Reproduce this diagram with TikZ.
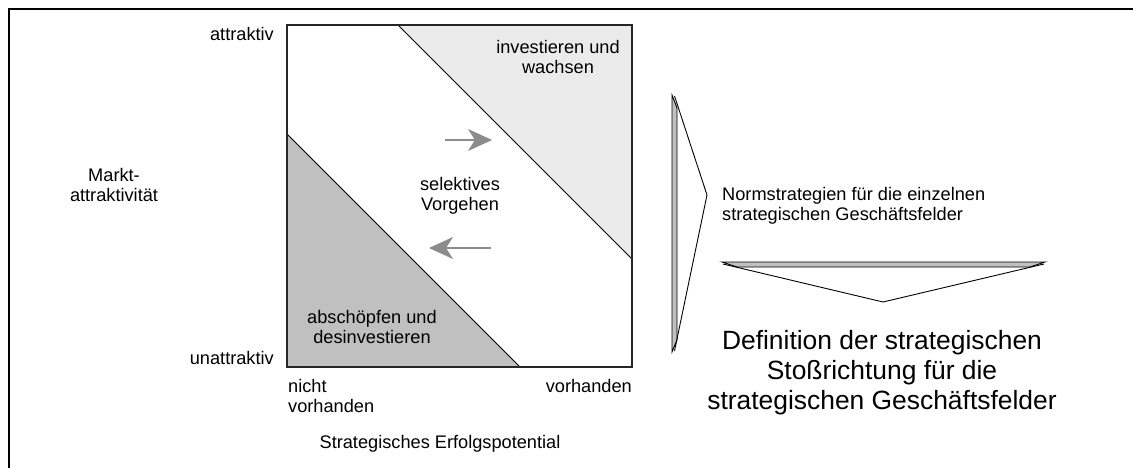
\documentclass[tikz,border=0pt]{standalone}
\usepackage{fontspec}
\setmainfont{Liberation Sans}
\usetikzlibrary{arrows.meta}
\definecolor{lightfill}{HTML}{EBEBEB}
\definecolor{darkfill}{HTML}{C0C0C0}
\definecolor{arrowgray}{HTML}{8C8C8C}
\definecolor{stripfill}{HTML}{C0C0C0}
\begin{document}
\begin{tikzpicture}[x=1pt,y=-1pt,
  lbl/.style={font=\fontsize{18.2}{20.5}\selectfont, inner sep=0pt, align=center},
  biglbl/.style={font=\fontsize{26.4}{30}\selectfont, inner sep=0pt, align=center},
  movearrow/.style={draw=arrowgray, line width=1.5pt,
    -{Stealth[length=24pt,width=22pt,inset=7pt,fill=arrowgray]}},
  region/.style={draw=black, line width=1pt},
  strip/.style={draw=black, fill=stripfill, line width=0.9pt, line join=miter},
  chevron/.style={draw=black, line width=0.9pt}]
\useasboundingbox (0,0) rectangle (1133,468);
\fill[white] (0,0) rectangle (1133,468);
% outer frame (only top and left edge lie inside the page)
\draw[line width=2.7pt] (9,470) -- (9,9) -- (1135,9);

% portfolio square with the two strategy zones
\coordinate (sqNW) at (287,25);
\coordinate (sqSE) at (632,367);
\filldraw[region, fill=lightfill] (398,25) -- (632,25) -- (632,259) -- cycle;
\filldraw[region, fill=darkfill] (287,134) -- (520,367) -- (287,367) -- cycle;
\draw[line width=1.2pt, draw=black!85] (sqNW) rectangle (sqSE);

% axis labels
\node[lbl, anchor=base east] (yhi) at (274,41) {attraktiv};
\node[lbl, anchor=base east] (ylo) at (274,364) {unattraktiv};
\node[lbl, anchor=north] (yaxis) at (114,168) {Markt-\\attraktivität};
\node[lbl, anchor=north west, align=left] (xlo) at (288,379) {nicht\\vorhanden};
\node[lbl, anchor=base east] (xhi) at (632,392) {vorhanden};
\node[lbl, anchor=base] (xaxis) at (440,448) {Strategisches Erfolgspotential};

% zone labels
\node[lbl, anchor=north] (invest) at (558,40) {investieren und\\wachsen};
\node[lbl, anchor=north] (select) at (460,177) {selektives\\Vorgehen};
\node[lbl, anchor=north] (harvest) at (372,310) {abschöpfen und\\desinvestieren};

% movement arrows inside the selective zone
\coordinate (upA) at (445,140);
\coordinate (upB) at (492,140);
\coordinate (dnA) at (491,248);
\coordinate (dnB) at (429,248);
\draw[movearrow] (upA) -- (upB);
\draw[movearrow] (dnA) -- (dnB);

% right-pointing chevron
\filldraw[strip] (672,95) -- (677,108) -- (677,340) -- (672,352) -- cycle;
\coordinate (rTop) at (674.5,96);
\coordinate (rTip) at (707,195);
\coordinate (rBot) at (674.5,351);
\draw[chevron] (rTop) -- (rTip) -- (rBot);

% result text
\node[lbl, anchor=north west, align=left] (norm) at (722,187)
  {Normstrategien für die einzelnen\\strategischen Geschäftsfelder};

% down-pointing chevron
\filldraw[strip] (722,262) -- (1045,262) -- (1030,267) -- (737,267) -- cycle;
\coordinate (dLeft) at (723,264);
\coordinate (dTip) at (883,302);
\coordinate (dRight) at (1044,264);
\draw[chevron] (dLeft) -- (dTip) -- (dRight);

\node[biglbl, anchor=north] (goal) at (882,330)
  {Definition der strategischen\\Stoßrichtung für die\\strategischen Geschäftsfelder};
\end{tikzpicture}
\end{document}
